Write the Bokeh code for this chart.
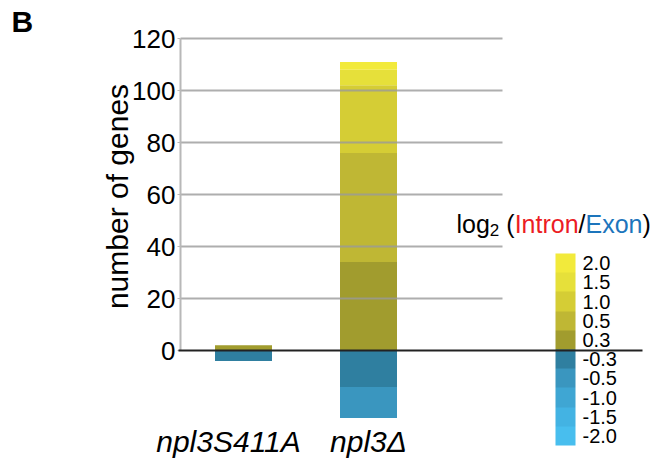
import math
from bokeh.plotting import figure
from bokeh.models import (ColumnDataSource, Range1d, FixedTicker, ColorBar,
                          LinearColorMapper, Label)
from bokeh.embed import file_html
from bokeh.resources import INLINE
from bokeh.core.properties import value

# ---------------- data ----------------
categories = ["npl3S411A", "npl3\u0394"]
# positive classes, stacked bottom -> top
pos_levels = ["0.3", "0.5", "1.0", "1.5", "2.0"]
pos_03 = [2, 34]
pos_05 = [0, 42]
pos_10 = [0, 26]
pos_15 = [0, 6]
pos_20 = [0, 3]
# negative classes, stacked top -> bottom (counts shown below zero)
neg_levels = ["-0.3", "-0.5", "-1.0", "-1.5", "-2.0"]
neg_03 = [4, 14]
neg_05 = [0, 12]
neg_10 = [0, 0]
neg_15 = [0, 0]
neg_20 = [0, 0]
y_ticks = [0, 20, 40, 60, 80, 100, 120]
legend_labels = ["2.0", "1.5", "1.0", "0.5", "0.3", "-0.3", "-0.5", "-1.0", "-1.5", "-2.0"]

# ---------------- styles / layout ----------------
level_colors = {
    "2.0": "#F2EA3B", "1.5": "#E6E03A", "1.0": "#D5CD35", "0.5": "#BFB734", "0.3": "#A19C2E",
    "-0.3": "#2F7FA0", "-0.5": "#3A96BF", "-1.0": "#3FA6D3", "-1.5": "#43B3E3", "-2.0": "#48BEEE",
}
FONT = "Liberation Sans"

W, H = 666, 466
px_per_unit = 2.6
zero_y = 350               # canvas y of value 0
bar_px_spacing = 125.0
first_bar_x = 243
axis_x = 180               # canvas x of the y axis line
BASE_FIX = 12              # baseline correction for text drawn with alphabetic baseline


def xval(px):
    return (px - first_bar_x) / bar_px_spacing


def yval(py):
    return (zero_y - py) / px_per_unit


p = figure(width=W, height=H, output_backend="svg", toolbar_location=None,
           x_range=Range1d(xval(0), xval(W)), y_range=Range1d(yval(H), yval(0)),
           x_axis_location=None, min_border=0)
p.outline_line_color = None
p.grid.visible = False
p.background_fill_color = "white"

xs = list(range(len(categories)))
src = ColumnDataSource(dict(
    x=xs,
    p03=pos_03, p05=pos_05, p10=pos_10, p15=pos_15, p20=pos_20,
    n03=[-v for v in neg_03], n05=[-v for v in neg_05], n10=[-v for v in neg_10],
    n15=[-v for v in neg_15], n20=[-v for v in neg_20],
))
bar_w = 57 / bar_px_spacing
p.vbar_stack(["p03", "p05", "p10", "p15", "p20"], x="x", width=bar_w, source=src,
             fill_color=[level_colors[l] for l in pos_levels], line_color=None)
p.vbar_stack(["n03", "n05", "n10", "n15", "n20"], x="x", width=bar_w, source=src,
             fill_color=[level_colors[l] for l in neg_levels], line_color=None)

# horizontal grid lines (drawn over the bars, stop before the legend)
grid_vals = [t for t in y_ticks if t > 0]
p.segment(x0=[xval(axis_x)] * len(grid_vals), x1=[xval(502)] * len(grid_vals),
          y0=grid_vals, y1=grid_vals, line_color="#9a9a9a", line_alpha=0.8, line_width=2)

# y axis, pinned at the chart's left edge
ax = p.yaxis[0]
ax.fixed_location = xval(axis_x)
ax.ticker = FixedTicker(ticks=y_ticks)
ax.bounds = (0, 120)
ax.axis_line_color = "#b8b8b8"
ax.axis_line_width = 2
ax.major_tick_line_color = "#b8b8b8"
ax.major_tick_in = 0
ax.major_tick_out = 3
ax.minor_tick_line_color = None
ax.major_label_standoff = 2
ax.major_label_text_font = FONT
ax.major_label_text_font_size = "26px"
ax.major_label_text_color = "black"


def add_label(x, y, text, size, color="black", **kw):
    p.add_layout(Label(x=x, y=H - y, x_units="screen", y_units="screen", text=text,
                       text_font=FONT, text_font_size=f"{size}px", text_color=color, **kw))


# panel letter
add_label(11, 33 - BASE_FIX, "B", 30, text_font_style="bold", text_baseline="alphabetic")

# y axis title
add_label(117, 196, "number of genes", 30, angle=math.pi / 2, text_align="center",
          text_baseline="middle")

# x category labels
label_nudge = [-15, 0]
lab_src = ColumnDataSource(dict(x=xs, y=[yval(453 - BASE_FIX)] * len(xs), text=categories,
                                dx=label_nudge))
p.text(x="x", y="y", text="text", x_offset="dx", source=lab_src, text_align="center",
       text_baseline="alphabetic", text_font=value(FONT), text_font_size="30px",
       text_font_style="italic", text_color="black")

# colour legend
palette = [level_colors[l] for l in legend_labels][::-1]
mapper = LinearColorMapper(palette=palette, low=0, high=len(palette))
ticks = [i + 0.5 for i in range(len(palette))]
overrides = {t: lbl for t, lbl in zip(ticks, legend_labels[::-1])}
cb = ColorBar(color_mapper=mapper, ticker=FixedTicker(ticks=ticks),
              major_label_overrides=overrides, width=20, height=192,
              location=(555, H - 445), padding=0,
              label_standoff=7, major_tick_line_color=None, minor_tick_line_color=None,
              bar_line_color=None, border_line_color=None,
              background_fill_alpha=0, major_label_text_font=FONT,
              major_label_text_font_size="20px", major_label_text_color="black")
p.add_layout(cb)

# zero line, drawn above the legend bar
p.segment(x0=[xval(178)], x1=[xval(642)], y0=[0], y1=[0], line_color="#222222", line_width=2,
          level="overlay")

# legend title  log2 (Intron/Exon)
adv = {"l": .222, "o": .556, "g": .556, "(": .333, "I": .278, "n": .556, "t": .278,
       "r": .333, "/": .278, "E": .667, "x": .5, ")": .333, " ": .278, "2": .556}
pieces = [("log", 25, "black", 0, 0), ("2", 17, "black", 6, 0), ("(", 25, "black", 0, 7),
          ("Intron", 25, "#EC1C24", 0, 0), ("/", 25, "black", 0, 0),
          ("Exon", 25, "#1C75BC", 0, 0), (")", 25, "black", 0, 0)]
cx = 456
for txt, fs, col, dy, gap in pieces:
    cx += gap
    add_label(cx, 235 + dy - BASE_FIX, txt, fs, col, text_align="left", text_baseline="alphabetic")
    cx += sum(adv[c] for c in txt) * fs

open("out.html", "w").write(file_html(p, INLINE))
